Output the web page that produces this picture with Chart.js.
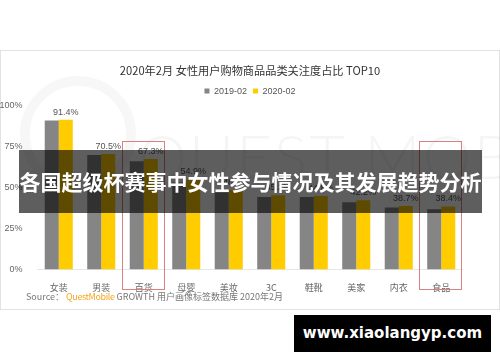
<!DOCTYPE html>
<html>
<head>
<meta charset="utf-8">
<script src="https://cdn.jsdelivr.net/npm/chart.js@4.4.1/dist/chart.umd.min.js"></script>
<style>
    body { margin: 0; background: #fff; }
    #wrap { position: relative; width: 500px; height: 362px; overflow: hidden; font-family: "Noto Sans CJK SC", "Noto Sans", sans-serif; }
    #panel { position: absolute; left: 0; top: 50px; width: 498px; height: 258px; border: 1px solid #e2e2e2; }
    #wmText { position: absolute; left: 138px; top: 118px; font-family: Lato, "Open Sans", sans-serif; font-weight: 300; font-size: 62px; letter-spacing: 2px; color: rgba(0,0,0,0.04); white-space: nowrap; }
    #wmRing { position: absolute; left: 20px; top: 76px; width: 96px; height: 96px; border: 10px solid rgba(0,0,0,0.03); border-radius: 50%; }
    #c { position: absolute; left: 0; top: 0; }
    #source { position: absolute; left: 26px; top: 290px; font-size: 9px; color: #777; white-space: nowrap; }
    #source .qm { color: #f5a623; letter-spacing: -0.4px; }
    #banner { position: absolute; left: 19px; top: 150px; width: 463px; height: 63px; background: rgba(0,0,0,0.63); color: #fff; font-weight: bold; font-size: 21px; line-height: 63px; text-align: center; white-space: nowrap; }
    #site { position: absolute; left: 294px; top: 315px; width: 197px; height: 37px; background: #000; color: #fff; font-family: "DejaVu Sans", sans-serif; font-weight: bold; font-size: 15px; line-height: 37px; text-align: center; }
</style>
</head>
<body>
<div id="wrap">
    <div id="panel"></div>
    <div id="wmRing"></div>
    <div id="wmText">QUEST MOBILE</div>
    <canvas id="c" width="500" height="362"></canvas>
    <div id="source">Source：&nbsp;<span class="qm">QuestMobile</span> GROWTH 用户画像标签数据库 2020年2月</div>
    <div id="banner">各国超级杯赛事中女性参与情况及其发展趋势分析</div>
    <div id="site">www.xiaolangyp.com</div>
</div>
<script>
const categorias = ['女装', '男装', '百货', '母婴', '美妆', '3C', '鞋靴', '美家', '内衣', '食品'];
const serie2019 = [90.8, 69.8, 66.0, 53.0, 47.0, 44.2, 44.2, 41.0, 37.8, 36.7];
const serie2020 = [91.4, 70.5, 67.3, 54.9, 48.5, 45.2, 44.8, 42.2, 38.7, 38.4];
const nombresSeries = ['2019-02', '2020-02'];
const ticksY = [0, 25, 50, 75, 100];
const destacados = ['百货', '食品'];

// etiquetas encima de las barras amarillas
const etiquetas = {
    id: 'etiquetas',
    afterDatasetsDraw(chart) {
        const ctx = chart.ctx;
        const meta = chart.getDatasetMeta(1);
        ctx.save();
        ctx.font = '9px "Liberation Sans", Arial, sans-serif';
        ctx.fillStyle = '#555';
        ctx.textAlign = 'center';
        ctx.textBaseline = 'bottom';
        meta.data.forEach((bar, i) => {
            ctx.fillText(serie2020[i].toFixed(1) + '%', bar.x, bar.y - 3);
        });
        ctx.restore();
    }
};

// recuadros rojos
const recuadros = {
    id: 'recuadros',
    afterDraw(chart) {
        const ctx = chart.ctx;
        const x = chart.scales.x;
        const area = chart.chartArea;
        ctx.save();
        ctx.strokeStyle = '#d98080';
        ctx.lineWidth = 1;
        destacados.forEach(nombre => {
            const cx = x.getPixelForValue(categorias.indexOf(nombre));
            ctx.strokeRect(Math.round(cx - 22) + 0.5, Math.round(area.top + 35) + 0.5, 42, Math.round(area.bottom - area.top - 16));
        });
        ctx.restore();
    }
};

new Chart(document.getElementById('c'), {
    type: 'bar',
    data: {
        labels: categorias,
        datasets: [
            { label: nombresSeries[0], data: serie2019, backgroundColor: '#858585' },
            { label: nombresSeries[1], data: serie2020, backgroundColor: '#ffcc00' }
        ]
    },
    options: {
        responsive: false,
        animation: false,
        devicePixelRatio: 1,
        layout: { padding: { left: 0, right: 0, top: 50, bottom: 62.6 } },
        datasets: { bar: { categoryPercentage: 0.66, barPercentage: 1 } },
        plugins: {
            title: {
                display: true,
                text: '2020年2月 女性用户购物商品品类关注度占比 TOP10',
                color: '#333',
                font: { size: 11.2, family: '"Noto Sans CJK SC", sans-serif', weight: 'normal' },
                padding: { top: 14.3, bottom: 2.8 }
            },
            legend: {
                display: true,
                labels: {
                    boxWidth: 5,
                    boxHeight: 5,
                    padding: 6,
                    color: '#555',
                    font: { size: 9, family: '"Liberation Sans", Arial, sans-serif' }
                }
            },
            tooltip: { enabled: false }
        },
        scales: {
            x: {
                grid: { display: false },
                border: { color: '#e6e6e6' },
                ticks: { color: '#666', padding: 5, font: { size: 9, family: '"Noto Sans CJK SC", sans-serif' } },
                afterFit: s => { s.height = 30; }
            },
            y: {
                min: 0,
                max: 100,
                afterBuildTicks: s => { s.ticks = ticksY.map(v => ({ value: v })); },
                grid: { display: false },
                border: { display: false },
                ticks: { color: '#666', padding: 7, font: { size: 9, family: '"Liberation Sans", Arial, sans-serif' }, callback: v => v + '%' },
                afterFit: s => { s.width = 37.5; }
            },
            yDerecha: {
                position: 'right',
                min: 0,
                max: 100,
                grid: { display: false },
                border: { display: false },
                ticks: { display: false },
                afterFit: s => { s.width = 37.5; }
            }
        }
    },
    plugins: [etiquetas, recuadros]
});
</script>
</body>
</html>
